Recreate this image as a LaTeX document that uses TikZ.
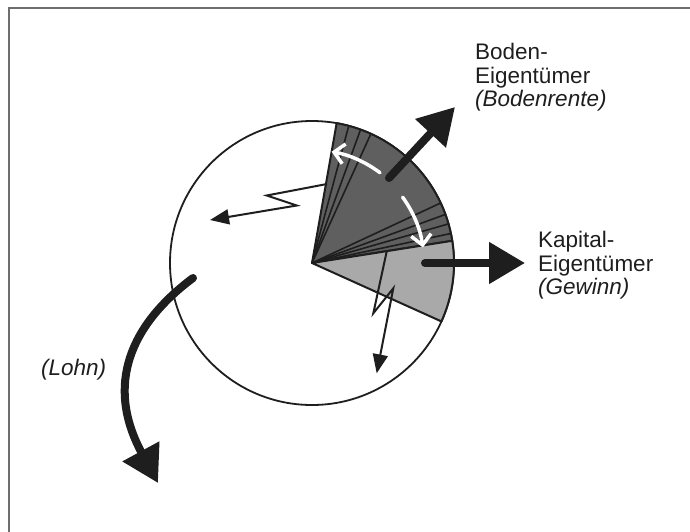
\documentclass[tikz,border=0pt]{standalone}
\usepackage{fontspec}
\setmainfont{Liberation Sans}
\usetikzlibrary{arrows.meta}
\definecolor{ink}{HTML}{1E1E1E}
\definecolor{darkfill}{HTML}{5F5F5F}
\definecolor{lightfill}{HTML}{A9A9A9}
\definecolor{framegray}{HTML}{6E6E6E}
\begin{document}
\begin{tikzpicture}[x=1pt,y=-1pt,
  lbl/.style={inner sep=0pt, align=left, anchor=north west, font=\fontsize{22.5}{23.5}\selectfont, text=ink},
  bigarrow/.style={line width=8pt, draw=ink, line cap=round, -{Triangle[length=36pt,width=40pt]}},
  whitearrow/.style={line width=3.5pt, draw=white, line cap=round, -{Straight Barb[length=10pt,width=20pt]}},
  bolt/.style={line width=2pt, draw=ink, line join=miter, -{Triangle[length=19pt,width=15pt]}},
  sectoredge/.style={line width=2pt, draw=ink, line join=round},
  innerline/.style={line width=1.6pt, draw=ink},
]
\useasboundingbox (0,0) rectangle (690,532);
% frame (top and left edges)
\draw[framegray, line width=2pt] (9,532) -- (9,8) -- (690,8);

\coordinate (O) at (312,263);
% circle
\draw[ink, line width=1.8pt, fill=white] (O) circle[radius=142];
% sectors
\path[sectoredge, fill=darkfill] (O) -- +(-80:142) arc[start angle=-80, end angle=-9, radius=142] -- cycle;
\path[sectoredge, fill=lightfill] (O) -- +(-9:142) arc[start angle=-9, end angle=24.3, radius=142] -- cycle;
\foreach \a in {75,70,65.5,25,20,16,12} \draw[innerline] (O) -- +(-\a:142);

% white curved arrows
\draw[whitearrow] ([shift={(O)}]-53:113) arc[start angle=-53, end angle=-80, radius=113];
\draw[whitearrow] ([shift={(O)}]-36:112) arc[start angle=-36, end angle=-8, radius=112];

% lightning arrows
\coordinate (b1s) at (327,184);
\coordinate (b1a) at (266.7,195.5);
\coordinate (b1b) at (296.7,205.5);
\coordinate (b1t) at (210,220);
\draw[bolt] (b1s) -- (b1a) -- (b1b) -- (b1t);
\coordinate (b2s) at (386.7,251.5);
\coordinate (b2a) at (373.3,313.3);
\coordinate (b2b) at (393.3,288.3);
\coordinate (b2t) at (376.7,373.3);
\draw[bolt] (b2s) -- (b2a) -- (b2b) -- (b2t);

% labels
\node[lbl] (boden) at (475,43) {Boden-\\Eigentümer\\\textit{(Bodenrente)}};
\node[lbl] (kapital) at (538,231) {Kapital-\\Eigentümer\\\textit{(Gewinn)}};
\node[lbl] (lohn) at (41,359) {\textit{(Lohn)}};

% thick arrows
\coordinate (bs) at (389,178);
\coordinate (bt) at (455,107);
\draw[bigarrow] (bs) -- (bt);
\coordinate (ks) at (425,263);
\coordinate (kt) at (525,263);
\draw[bigarrow] (ks) -- (kt);
\coordinate (ls) at (193,278);
\coordinate (lt) at (158,483);
\draw[bigarrow] (ls) .. controls (130,325) and (105,385) .. (lt);
\end{tikzpicture}
\end{document}
